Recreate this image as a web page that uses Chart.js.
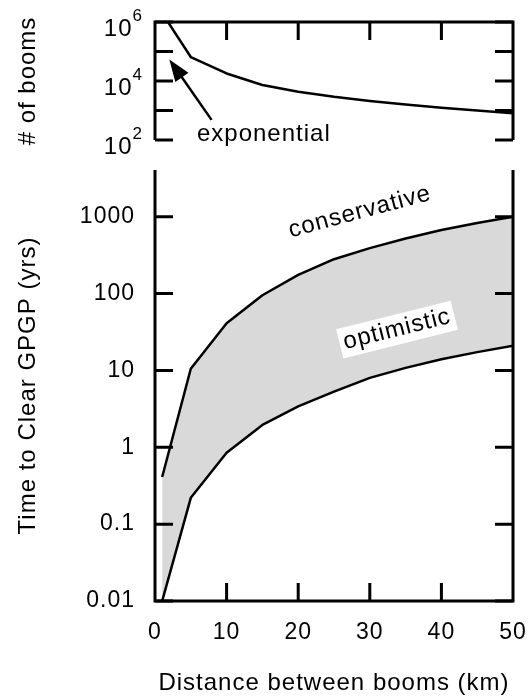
<!DOCTYPE html>
<html>
<head>
<meta charset="utf-8">
<script src="https://cdn.jsdelivr.net/npm/chart.js@4.4.1/dist/chart.umd.min.js"></script>
<style>
  html, body { margin: 0; padding: 0; background: #fff; }
  #wrap { position: relative; width: 531px; height: 698px; }
  canvas { position: absolute; left: 0; }
  #boomsChart { top: 0; }
  #clearChart { top: 155px; }
</style>
</head>
<body>
<div id="wrap">
  <canvas id="boomsChart" width="531" height="155"></canvas>
  <canvas id="clearChart" width="531" height="543"></canvas>
</div>
<script>
// Distance between booms (km), shared by both panels
const distanceKm = [1, 5, 10, 15, 20, 25, 30, 35, 40, 45, 50];
// Top panel: number of booms
const boomCount = [2.0e6, 6.5e4, 1.8e4, 7.3e3, 4.3e3, 2.9e3, 2.1e3, 1.6e3, 1.25e3, 1.0e3, 810];
// Bottom panel: time to clear GPGP (yrs)
const yearsConservative = [0.41, 10.5, 41, 95, 175, 280, 390, 520, 670, 830, 1000];
const yearsOptimistic = [0.01, 0.22, 0.85, 1.95, 3.4, 5.3, 8.0, 10.8, 14, 17.3, 21];

// Tick values
const xTicks = [0, 10, 20, 30, 40, 50];
const boomTicks = [1e2, 1e3, 1e4, 1e5, 1e6];
const boomLabelled = [1e2, 1e4, 1e6];
const yearTicks = [0.01, 0.1, 1, 10, 100, 1000];

// Text notes, anchored in data units
const bandNotes = [
    { text: 'conservative', x: 28.6, y: 1150, angle: -15, box: false },
    { text: 'optimistic', x: 33.8, y: 34, angle: -14, box: true }
];
const arrowNote = { text: 'exponential', x: 15.2, y: 160, fromX: 7.9, fromY: 480, toX: 2.0, toY: 5.4e4 };

const FONT = '"Liberation Sans", Arial, sans-serif';
const TICK = 18;

Chart.defaults.font.family = FONT;
Chart.defaults.color = '#000';

// slightly wider lettering, like the original figure
const spacingPlugin = {
    id: 'spacing',
    beforeDraw(chart) { chart.ctx.letterSpacing = '1px'; }
};

// Box edges plus inward ticks
const framePlugin = {
    id: 'frame',
    afterDraw(chart, args, opts) {
        const { ctx, chartArea: a, scales } = chart;
        const xs = scales.x, ys = scales.y;
        const openBottom = opts.open === 'bottom';
        ctx.save();
        ctx.strokeStyle = '#000';
        ctx.lineWidth = 3;
        ctx.lineJoin = 'miter';
        ctx.beginPath();
        if (openBottom) {
            ctx.moveTo(a.left, a.bottom); ctx.lineTo(a.left, a.top);
            ctx.lineTo(a.right, a.top); ctx.lineTo(a.right, a.bottom);
        } else {
            ctx.moveTo(a.left, a.top); ctx.lineTo(a.left, a.bottom);
            ctx.lineTo(a.right, a.bottom); ctx.lineTo(a.right, a.top);
        }
        ctx.stroke();

        ctx.beginPath();
        opts.yTicks.forEach(v => {
            const y = ys.getPixelForValue(v);
            ctx.moveTo(a.left, y); ctx.lineTo(a.left + TICK, y);
            ctx.moveTo(a.right, y); ctx.lineTo(a.right - TICK, y);
        });
        const edge = openBottom ? a.top : a.bottom;
        const dir = openBottom ? 1 : -1;
        opts.xTicks.forEach(v => {
            if (v <= xs.min || v >= xs.max) return;
            const x = xs.getPixelForValue(v);
            ctx.moveTo(x, edge); ctx.lineTo(x, edge + dir * TICK);
        });
        ctx.stroke();
        ctx.restore();
    }
};

// 10^n labels for the top panel
const powerLabelPlugin = {
    id: 'powerLabels',
    afterDraw(chart, args, opts) {
        const { ctx, chartArea: a, scales: { y } } = chart;
        ctx.save();
        ctx.fillStyle = '#000';
        ctx.textAlign = 'right';
        ctx.textBaseline = 'middle';
        opts.values.forEach(v => {
            const py = y.getPixelForValue(v);
            const exp = String(Math.round(Math.log10(v)));
            const right = a.left - 12;
            ctx.font = '17px ' + FONT;
            ctx.fillText(exp, right, py - 6);
            const ew = ctx.measureText(exp).width;
            ctx.font = '24px ' + FONT;
            ctx.fillText('10', right - ew, py + 7);
        });
        ctx.restore();
    }
};

// Curve labels and the arrow
const notePlugin = {
    id: 'notes',
    afterDatasetsDraw(chart, args, opts) {
        const { ctx, scales: { x, y } } = chart;
        ctx.save();
        ctx.font = '24px ' + FONT;
        ctx.textAlign = 'center';
        ctx.textBaseline = 'middle';
        (opts.labels || []).forEach(n => {
            ctx.save();
            ctx.translate(x.getPixelForValue(n.x), y.getPixelForValue(n.y));
            ctx.rotate(n.angle * Math.PI / 180);
            if (n.box) {
                const w = ctx.measureText(n.text).width + 8;
                ctx.fillStyle = '#fff';
                ctx.fillRect(-w / 2, -15, w, 30);
            }
            ctx.fillStyle = '#000';
            ctx.fillText(n.text, 0, 0);
            ctx.restore();
        });

        const ar = opts.arrow;
        if (ar) {
            const x0 = x.getPixelForValue(ar.fromX), y0 = y.getPixelForValue(ar.fromY);
            const x1 = x.getPixelForValue(ar.toX), y1 = y.getPixelForValue(ar.toY);
            const ang = Math.atan2(y1 - y0, x1 - x0);
            const head = 22, half = 8;
            const c = Math.cos(ang), s = Math.sin(ang);
            ctx.strokeStyle = '#000';
            ctx.fillStyle = '#000';
            ctx.lineWidth = 2.5;
            ctx.beginPath();
            ctx.moveTo(x0, y0);
            ctx.lineTo(x1 - head * 0.8 * c, y1 - head * 0.8 * s);
            ctx.stroke();
            ctx.beginPath();
            ctx.moveTo(x1, y1);
            ctx.lineTo(x1 - head * c + half * s, y1 - head * s - half * c);
            ctx.lineTo(x1 - head * c - half * s, y1 - head * s + half * c);
            ctx.closePath();
            ctx.fill();
            ctx.fillText(ar.text, x.getPixelForValue(ar.x), y.getPixelForValue(ar.y));
        }
        ctx.restore();
    }
};

const toPoints = ys => distanceKm.map((d, i) => ({ x: d, y: ys[i] }));

const lineStyle = {
    borderColor: '#000',
    borderWidth: 2.5,
    pointRadius: 0,
    tension: 0,
    borderJoinStyle: 'round'
};

// keep the plot box fixed: axis labels must not push it around
function fixWidth(s) {
    s.width = 155;
    s.paddingTop = 0;
    s.paddingBottom = 0;
}

// Top panel: # of booms
new Chart(document.getElementById('boomsChart'), {
    type: 'line',
    data: {
        datasets: [{ ...lineStyle, data: toPoints(boomCount), fill: false }]
    },
    options: {
        responsive: false,
        animation: false,
        events: [],
        layout: { padding: { left: 0, right: 18, top: 22, bottom: 15 } },
        plugins: {
            legend: { display: false },
            tooltip: { enabled: false },
            frame: { open: 'bottom', xTicks: xTicks, yTicks: boomTicks },
            powerLabels: { values: boomLabelled },
            notes: { arrow: arrowNote }
        },
        scales: {
            x: { type: 'linear', min: 0, max: 50, display: false },
            y: {
                type: 'logarithmic', min: 1e2, max: 1e6,
                grid: { display: false, drawTicks: false },
                border: { display: false },
                ticks: { display: false },
                afterFit: fixWidth,
                title: { display: true, text: '# of booms', font: { size: 24 }, padding: { top: 14, bottom: 0 } }
            }
        }
    },
    plugins: [spacingPlugin, notePlugin, framePlugin, powerLabelPlugin]
});

// Bottom panel: time to clear
new Chart(document.getElementById('clearChart'), {
    type: 'line',
    data: {
        datasets: [
            { ...lineStyle, label: 'optimistic', data: toPoints(yearsOptimistic), fill: false },
            { ...lineStyle, label: 'conservative', data: toPoints(yearsConservative), fill: '-1', backgroundColor: '#d9d9d9' }
        ]
    },
    options: {
        responsive: false,
        animation: false,
        events: [],
        layout: { padding: { left: 0, right: 18, top: 15, bottom: 0 } },
        plugins: {
            legend: { display: false },
            tooltip: { enabled: false },
            frame: { open: 'top', xTicks: xTicks, yTicks: yearTicks },
            notes: { labels: bandNotes }
        },
        scales: {
            x: {
                type: 'linear', min: 0, max: 50,
                afterBuildTicks(s) { s.ticks = xTicks.map(v => ({ value: v })); },
                grid: { display: false, drawTicks: false },
                border: { display: false },
                ticks: { font: { size: 23 }, padding: 18, maxRotation: 0, autoSkip: false },
                afterFit(s) {
                    s.height = 97;
                    s.paddingLeft = 0;
                    s.paddingRight = 0;
                },
                title: { display: true, text: 'Distance between booms (km)', font: { size: 24 }, padding: { top: 0, bottom: 0 } }
            },
            y: {
                type: 'logarithmic', min: 0.01, max: 4050,
                afterBuildTicks(s) { s.ticks = yearTicks.map(v => ({ value: v })); },
                grid: { display: false, drawTicks: false },
                border: { display: false },
                ticks: { font: { size: 23 }, padding: 20, autoSkip: false, callback: v => String(v) },
                afterFit: fixWidth,
                title: { display: true, text: 'Time to Clear GPGP (yrs)', font: { size: 24 }, padding: { top: 14, bottom: 0 } }
            }
        }
    },
    plugins: [spacingPlugin, notePlugin, framePlugin]
});
</script>
</body>
</html>
